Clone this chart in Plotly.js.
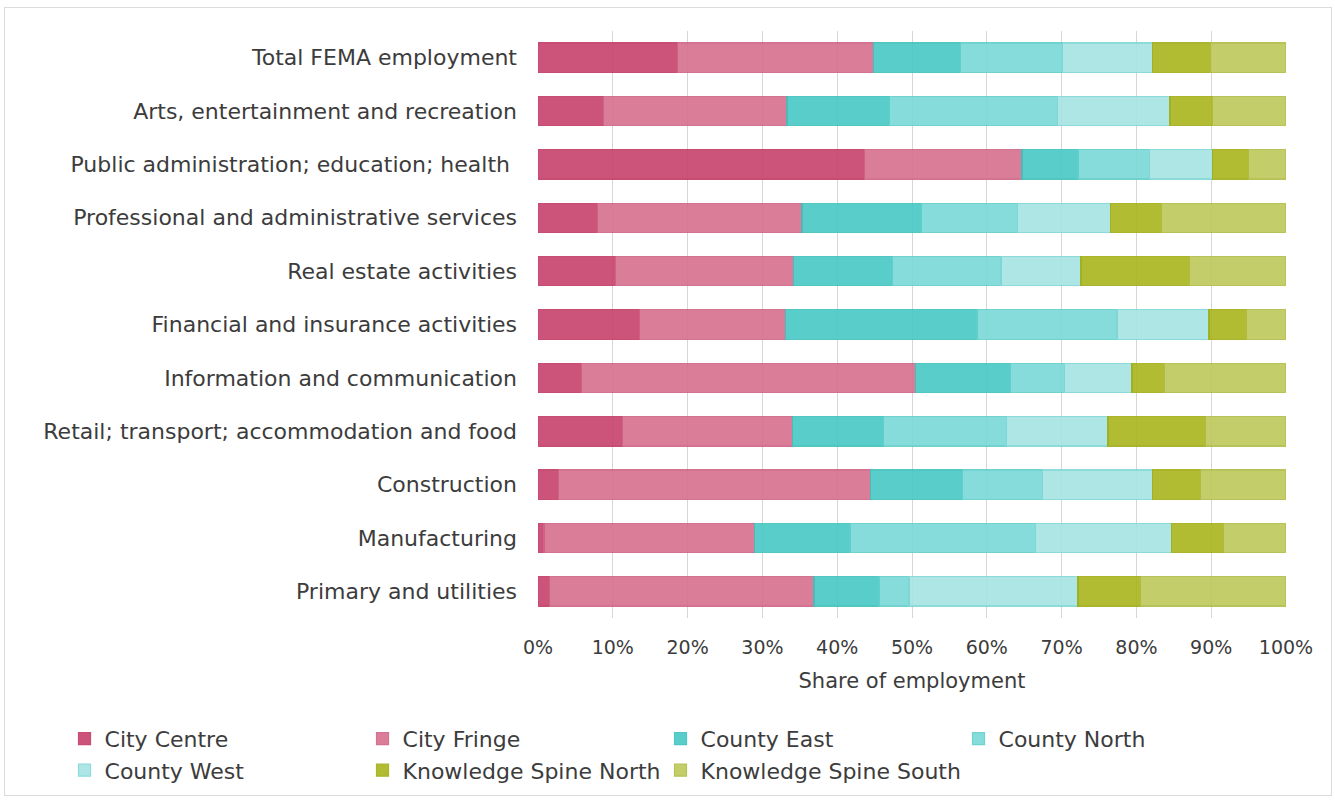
<!DOCTYPE html>
<html>
<head>
<meta charset="utf-8">
<script src="https://cdn.plot.ly/plotly-3.0.1.min.js"></script>
<style>
html,body{margin:0;padding:0;background:#fff;}
#frame{position:absolute;left:4px;top:7px;width:1328px;height:789px;border:1px solid #dcdcdc;box-sizing:border-box;}
#chart{position:absolute;left:0;top:0;width:1335px;height:802px;}
</style>
</head>
<body>
<div id="frame"></div>
<div id="chart"></div>
<script>
const categories = [
  "Total FEMA employment",
  "Arts, entertainment and recreation",
  "Public administration; education; health ",
  "Professional and administrative services",
  "Real estate activities",
  "Financial and insurance activities",
  "Information and communication",
  "Retail; transport; accommodation and food",
  "Construction",
  "Manufacturing",
  "Primary and utilities"
];
const seriesNames = ["City Centre","City Fringe","County East","County North","County West","Knowledge Spine North","Knowledge Spine South"];
const cityCentre          = [18.7, 8.8, 43.7, 8.0, 10.4, 13.6, 5.8, 11.3, 2.7, 0.8, 1.5];
const cityFringe          = [26.2, 24.5, 21.0, 27.3, 23.8, 19.5, 44.7, 22.7, 41.8, 28.1, 35.4];
const countyEast          = [11.6, 13.7, 7.5, 16.0, 13.2, 25.6, 12.7, 12.2, 12.3, 12.8, 8.7];
const countyNorth         = [13.6, 22.4, 9.5, 12.8, 14.5, 18.7, 7.2, 16.4, 10.6, 24.8, 4.0];
const countyWest          = [12.0, 15.1, 8.5, 12.4, 10.7, 12.3, 9.0, 13.6, 14.7, 18.2, 22.6];
const knowledgeSpineNorth = [7.8, 5.7, 4.8, 6.9, 14.5, 5.0, 4.3, 13.0, 6.5, 6.9, 8.3];
const knowledgeSpineSouth = [10.1, 9.8, 5.0, 16.6, 12.9, 5.3, 16.3, 10.8, 11.4, 8.4, 19.5];
const tickVals = [0,10,20,30,40,50,60,70,80,90,100];
const tickText = ["0%","10%","20%","30%","40%","50%","60%","70%","80%","90%","100%"];

const allSeries = [cityCentre, cityFringe, countyEast, countyNorth, countyWest, knowledgeSpineNorth, knowledgeSpineSouth];
const fills = ["#c7426c","#d7708f","#48c8c4","#78d9d7","#a6e4e4","#aab51c","#bdc95a"];
const lines = ["#c23a64","#cf6486","#3fc2be","#62cfcc","#7fd8d8","#a2ad16","#b0bc46"];

const traces = allSeries.map((vals, i) => ({
  type: "bar",
  orientation: "h",
  name: seriesNames[i],
  y: categories,
  x: vals,
  opacity: 0.9,
  marker: {color: fills[i], line: {color: lines[i], width: 1.2}},
  hoverinfo: "x+name"
}));

const font = "'DejaVu Sans', Lato, sans-serif";
const txt = "#3c3c3c";
const layout = {
  width: 1335, height: 802,
  paper_bgcolor: "rgba(0,0,0,0)",
  plot_bgcolor: "rgba(0,0,0,0)",
  barmode: "stack",
  bargap: 0.45,
  margin: {l: 538, r: 49, t: 31, b: 184, autoexpand: false},
  font: {family: font, size: 19, color: txt},
  xaxis: {
    range: [0, 100],
    tickvals: tickVals,
    ticktext: tickText,
    showgrid: true,
    gridcolor: "#d6d6d6",
    gridwidth: 1,
    zeroline: false,
    showline: false,
    ticks: "",
    ticklabelstandoff: 16,
    tickfont: {family: font, size: 19, color: txt},
    title: {text: "Share of employment", font: {family: font, size: 21, color: txt}, standoff: 16},
    fixedrange: true
  },
  yaxis: {
    autorange: "reversed",
    showgrid: false,
    zeroline: false,
    showline: false,
    ticks: "",
    ticklabelstandoff: 20,
    tickfont: {family: font, size: 22, color: txt},
    fixedrange: true
  },
  showlegend: true,
  legend: {
    orientation: "h",
    x: -0.633,
    xanchor: "left",
    y: -0.17,
    yanchor: "top",
    traceorder: "normal",
    entrywidth: 253,
    entrywidthmode: "pixels",
    font: {family: font, size: 22, color: txt},
    itemwidth: 30,
    tracegroupgap: 0
  }
};

Plotly.newPlot("chart", traces, layout, {displayModeBar: false, staticPlot: true});
</script>
</body>
</html>
